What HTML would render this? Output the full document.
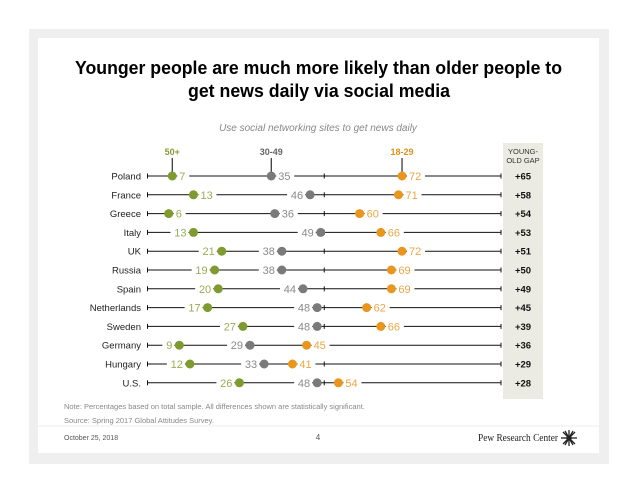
<!DOCTYPE html>
<html><head><meta charset="utf-8"><style>
body{margin:0;width:638px;height:493px;background:#fff;overflow:hidden;font-family:"Liberation Sans",sans-serif}
svg{display:block}
</style></head><body>
<svg id="c" width="638" height="493" viewBox="0 0 638 493" xmlns="http://www.w3.org/2000/svg">
<rect x="29" y="29" width="580" height="435" fill="#efefef"/>
<rect x="38" y="38" width="561" height="415" fill="#fff"/>
<line x1="38" y1="426" x2="599" y2="426" stroke="#eee"/>
<g font-family="'Liberation Sans',sans-serif" font-weight="bold" font-size="18" text-anchor="start" fill="#000">
<text x="75" y="74" textLength="487" lengthAdjust="spacingAndGlyphs">Younger people are much more likely than older people to</text>
<text x="188" y="97" textLength="262" lengthAdjust="spacingAndGlyphs">get news daily via social media</text>
</g>
<text x="318" y="131" text-anchor="middle" font-size="10" font-style="italic" fill="#888">Use social networking sites to get news daily</text>
<rect x="503" y="143" width="40" height="256" fill="#ecebe3"/>
<text x="523" y="154" text-anchor="middle" font-size="7.5" fill="#333"><tspan x="523">YOUNG-</tspan><tspan x="523" dy="9">OLD GAP</tspan></text>
<g id="plot"></g>
<text x="64" y="409" font-size="7.5" fill="#888">Note: Percentages based on total sample. All differences shown are statistically significant.</text>
<text x="64" y="423" font-size="7.5" fill="#888">Source: Spring 2017 Global Attitudes Survey.</text>
<text x="64" y="440" font-size="7" fill="#555">October 25, 2018</text>
<text x="318" y="440" font-size="8" fill="#555" text-anchor="middle">4</text>
<text x="478" y="441" font-size="11" fill="#222" textLength="80" lengthAdjust="spacingAndGlyphs" font-family="'Liberation Serif',serif">Pew Research Center</text>
<g stroke="#222" stroke-width="1.3">
<line x1="569" y1="430" x2="569" y2="446"/><line x1="561" y1="438" x2="577" y2="438"/>
<line x1="563" y1="432" x2="575" y2="444"/><line x1="575" y1="432" x2="563" y2="444"/>
<line x1="565" y1="431" x2="573" y2="445"/><line x1="573" y1="431" x2="565" y2="445"/>
<circle cx="569" cy="438" r="2" fill="#222"/>
</g>
</svg>
<script>
const countries=["Poland","France","Greece","Italy","UK","Russia","Spain","Netherlands","Sweden","Germany","Hungary","U.S."];
const old50=[7,13,6,13,21,19,20,17,27,9,12,26];
const mid3049=[35,46,36,49,38,38,44,48,48,29,33,48];
const young1829=[72,71,60,66,72,69,69,62,66,45,41,54];
const gaps=["+65","+58","+54","+53","+51","+50","+49","+45","+39","+36","+29","+28"];
const oldSide=["R","R","R","L","L","L","L","L","L","L","L","L"];
const midSide=["R","L","R","L","L","L","L","L","L","L","L","L"];
const youngSide=["R","R","R","R","R","R","R","R","R","R","R","R"];
const groupNames=["50+","30-49","18-29"];
const X0=147.5,X1=501,Y0=176,DY=18.8;
const xs=v=>X0+(X1-X0)*v/100;
const ys=i=>Y0+i*DY;
const NS="http://www.w3.org/2000/svg";
const plot=document.getElementById('plot');
function mk(t,a){const e=document.createElementNS(NS,t);for(const k in a)e.setAttribute(k,a[k]);return e;}
const series=[{v:old50,s:oldSide,dot:"#7f9a2f",txt:"#9aac54",n:"old"},{v:mid3049,s:midSide,dot:"#7a7a7a",txt:"#8a8a8a",n:"mid"},{v:young1829,s:youngSide,dot:"#e8961e",txt:"#eba545",n:"young"}];
const hdrCol=["#8a9a3a","#666","#e0901e"];
series.forEach((s,k)=>{
  const x=xs(s.v[0]);
  const t=mk('text',{x:x,y:155,'text-anchor':'middle','font-size':9,'font-weight':'bold',fill:hdrCol[k]});
  t.textContent=groupNames[k];
  
  
  plot.appendChild(t);
  const l=mk('line',{x1:x,y1:158,x2:x,y2:ys(0)-3,stroke:'#000','stroke-width':1});
  
  
  plot.appendChild(l);
});
countries.forEach((c,i)=>{
  const y=ys(i);
  const g=mk('g',{});
  
  
  plot.appendChild(g);
  const lab=mk('text',{x:141,y:y+3.5,'text-anchor':'end','font-size':9.5,fill:'#222'});
  lab.textContent=c;
  
  
  g.appendChild(lab);
  const ln=mk('line',{x1:xs(0),y1:y,x2:xs(100),y2:y,stroke:'#111','stroke-width':1});
  
  
  g.appendChild(ln);
  [0,50,100].forEach(t=>{
    const tk=mk('line',{x1:xs(t),y1:y-2.5,x2:xs(t),y2:y+2.5,stroke:'#111','stroke-width':1});
    
    
    g.appendChild(tk);
  });
  series.forEach(s=>{
    const x=xs(s.v[i]);
    const right=s.s[i]==="R";
    const w=s.v[i]>=10?14:8;
    const tx=right?x+7:x-7;
    const bg=mk('rect',{x:right?tx-2:tx-w-2,y:y-3,width:w+4,height:6,fill:'#fff'});
    
    
    g.appendChild(bg);
    const d=mk('circle',{cx:x,cy:y,r:4.5,fill:s.dot});
    
    
    g.appendChild(d);
    const vt=mk('text',{x:tx,y:y+4,'text-anchor':right?'start':'end','font-size':11,fill:s.txt});
    vt.textContent=s.v[i];
    
    
    g.appendChild(vt);
  });
  const gt=mk('text',{x:523,y:y+3.5,'text-anchor':'middle','font-size':9.5,'font-weight':'bold',fill:'#111'});
  gt.textContent=gaps[i];
  
  
  g.appendChild(gt);
});
</script>
</body></html>
